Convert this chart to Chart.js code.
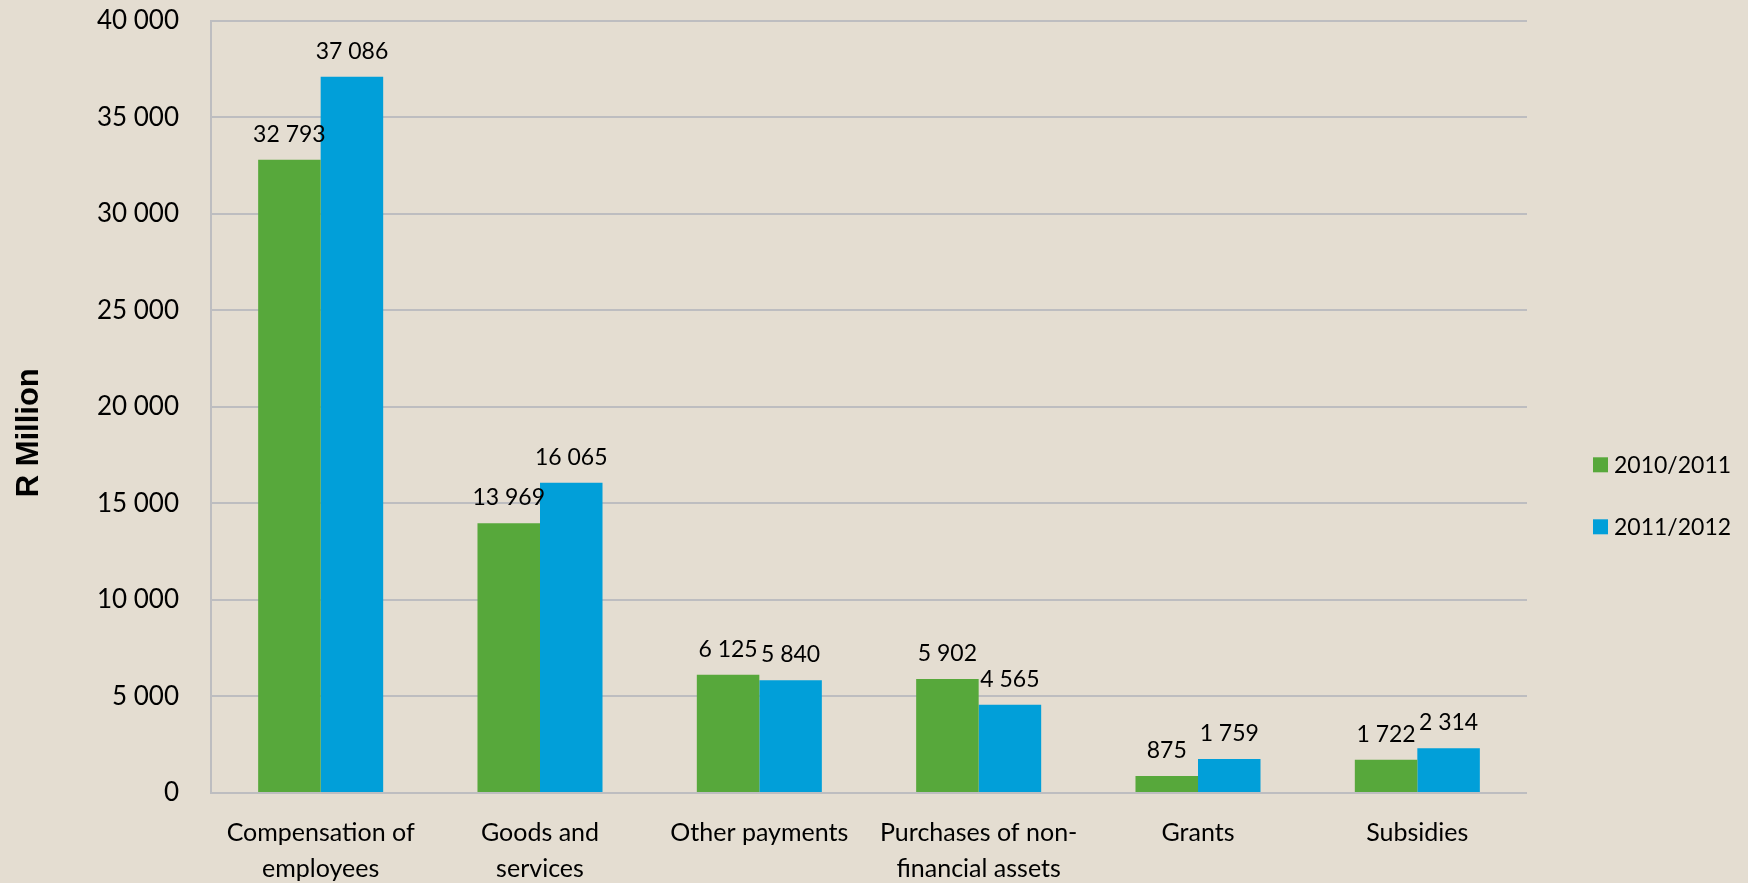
<!DOCTYPE html>
<html>
<head>
<meta charset="utf-8">
<script src="https://cdn.jsdelivr.net/npm/chart.js@4/dist/chart.umd.min.js"></script>
<style>
html, body { margin: 0; padding: 0; background: #e4ddd1; }
#wrap { width: 1748px; height: 883px; }
</style>
</head>
<body>
<div id="wrap"><canvas id="spendChart" width="1748" height="883"></canvas></div>
<script>
// data
var categories = [["Compensation of", "employees"], ["Goods and", "services"], "Other payments", ["Purchases of non-", "financial assets"], "Grants", "Subsidies"];
var seriesNames = ["2010/2011", "2011/2012"];
var values2010 = [32793, 13969, 6125, 5902, 875, 1722];
var values2011 = [37086, 16065, 5840, 4565, 1759, 2314];
var yMin = 0;
var yMax = 40000;
var yStep = 5000;
var yTitle = 'R Million';

var colors = ['#57a83b', '#019fd9'];

function fmt(v) {
	return String(v).replace(/\B(?=(\d{3})+(?!\d))/g, ' ');
}

// value labels above each bar
var valueLabels = {
	id: 'valueLabels',
	afterDatasetsDraw: function(chart) {
		var ctx = chart.ctx;
		ctx.save();
		ctx.font = '23px Lato';
		ctx.fillStyle = '#000';
		ctx.textAlign = 'center';
		ctx.textBaseline = 'alphabetic';
		chart.data.datasets.forEach(function(ds, i) {
			var meta = chart.getDatasetMeta(i);
			meta.data.forEach(function(bar, j) {
				ctx.fillText(fmt(ds.data[j]), bar.x, bar.y - 18);
			});
		});
		ctx.restore();
	}
};

// legend on the right + the rotated axis title, both a bit below the middle
var sideStuff = {
	id: 'sideStuff',
	afterDraw: function(chart) {
		var ctx = chart.ctx;
		var area = chart.chartArea;
		var mid = (area.top + area.bottom) / 2;
		var x = area.right + 66;
		ctx.save();
		ctx.font = '23px Lato';
		ctx.textBaseline = 'middle';
		ctx.textAlign = 'left';
		chart.data.datasets.forEach(function(ds, i) {
			var y = mid + 58 + i * 62;
			ctx.fillStyle = ds.backgroundColor;
			ctx.fillRect(x, y - 7.5, 15, 15);
			ctx.fillStyle = '#000';
			ctx.fillText(ds.label, x + 21, y + 1);
		});
		// y axis title
		ctx.translate(29, mid + 26);
		ctx.rotate(-Math.PI / 2);
		ctx.textAlign = 'center';
		ctx.font = 'bold 31px "Liberation Sans"';
		ctx.fillText(yTitle, 0, 0);
		ctx.restore();
	}
};

var chartdata = {
	labels: categories,
	datasets: [
		{ label: seriesNames[0], data: values2010, backgroundColor: colors[0], categoryPercentage: 0.57, barPercentage: 1.0 },
		{ label: seriesNames[1], data: values2011, backgroundColor: colors[1], categoryPercentage: 0.57, barPercentage: 1.0 }
	]
};

var options = {
	responsive: false,
	animation: false,
	layout: { padding: { left: 10, right: 221, top: 0, bottom: 0 } },
	plugins: {
		legend: { display: false },
		tooltip: { enabled: false }
	},
	scales: {
		x: {
			afterFit: function(scale) { scale.height = 90; },
			grid: { display: false, drawTicks: false },
			border: { display: false },
			ticks: {
				color: '#000',
				padding: 22,
				maxRotation: 0,
				autoSkip: false,
				font: { family: 'Lato', size: 25, lineHeight: 1.44 }
			}
		},
		y: {
			min: yMin,
			max: yMax,
			afterFit: function(scale) { scale.width = 201; },
			grid: { color: '#bdbdc0', lineWidth: 2, drawTicks: true, tickLength: 27, tickColor: 'rgba(0,0,0,0)' },
			border: { display: true, color: '#bdbdc0', width: 2 },
			ticks: {
				stepSize: yStep,
				color: '#000',
				padding: 5,
				font: { family: 'Lato', size: 26 },
				callback: function(v) { return fmt(v); }
			}
		}
	}
};

var ctx = document.getElementById('spendChart');
var spendChart = new Chart(ctx, {
	type: 'bar',
	data: chartdata,
	options: options,
	plugins: [valueLabels, sideStuff]
});
</script>
</body>
</html>
